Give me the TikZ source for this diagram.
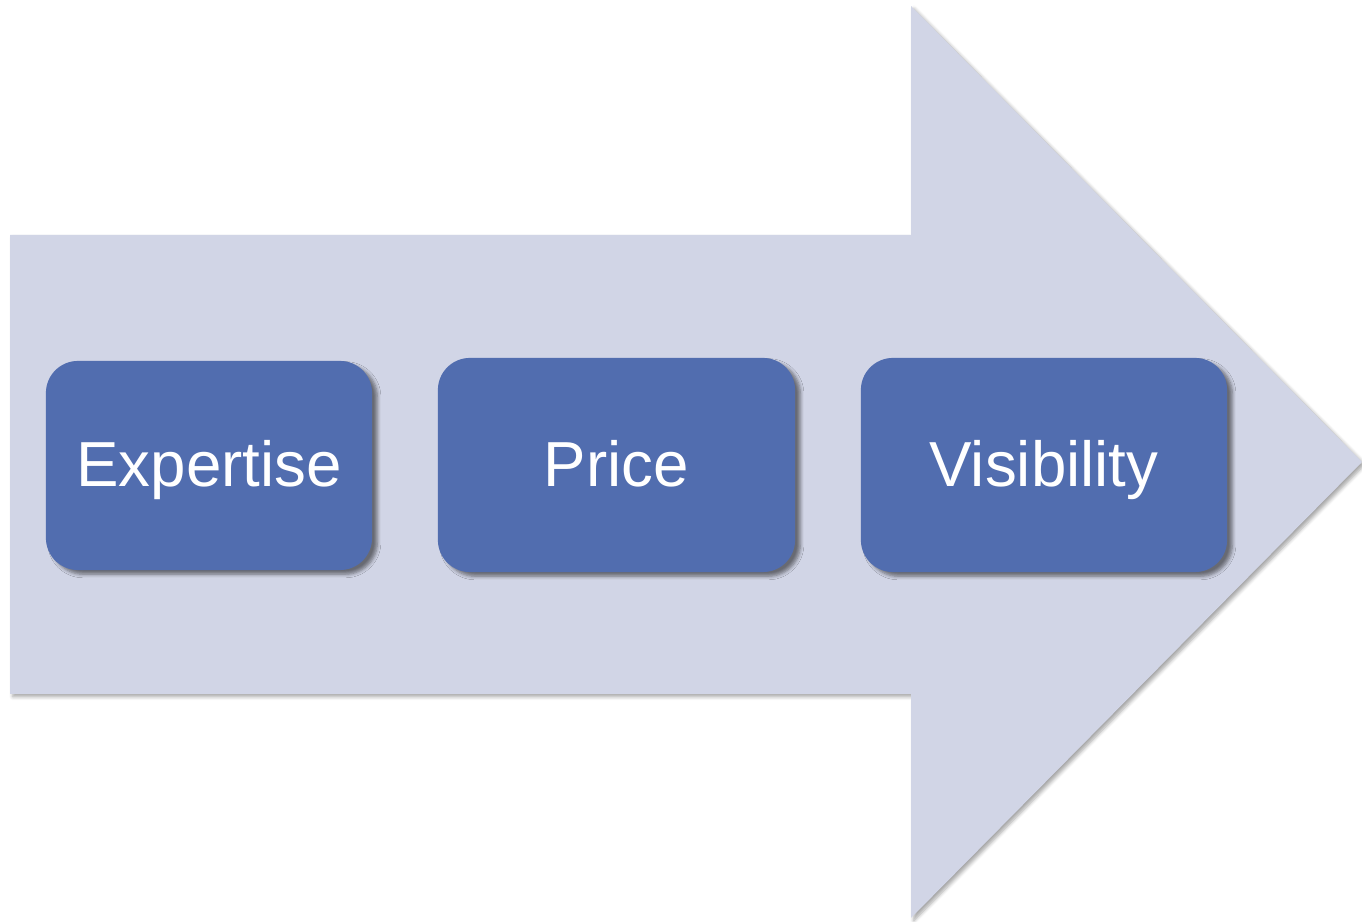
\documentclass[tikz,border=0pt]{standalone}
\usepackage{fontspec}
\setmainfont{Liberation Sans}
\usetikzlibrary{shadows.blur}
\definecolor{arrowfill}{HTML}{D1D5E6}
\definecolor{boxfill}{HTML}{516DAF}

\begin{document}
\begin{tikzpicture}[x=0.01cm,y=-0.01cm]
				\tikzstyle{stepbox}=[fill=boxfill,rounded corners=0.32cm,text=white,
				font=\fontsize{18.1}{22}\selectfont,inner sep=0pt,text height=0.55cm,text depth=0.13cm,
				blur shadow={shadow xshift=1.5pt,shadow yshift=-1.2pt,shadow blur radius=1pt,shadow blur steps=5,shadow opacity=50}]
				\tikzstyle{bigarrow}=[fill=arrowfill,
				blur shadow={shadow xshift=0.8pt,shadow yshift=-0.8pt,shadow blur radius=1pt,shadow blur steps=5,shadow opacity=35}]
				\useasboundingbox (0,0) rectangle (1362,922);
				% the arrow
				\coordinate (tail top) at (10,235);
				\coordinate (neck top) at (911,235);
				\coordinate (head top) at (911,6);
				\coordinate (tip) at (1362,462);
				\coordinate (head bottom) at (911,918);
				\coordinate (neck bottom) at (911,694);
				\coordinate (tail bottom) at (10,694);
				\path[bigarrow] (tail top) -- (neck top) -- (head top) -- (tip)
				-- (head bottom) -- (neck bottom) -- (tail bottom) -- cycle;
				% the three steps
				\node[stepbox,minimum width=3.26cm,minimum height=2.09cm] (expertise) at (209,465.5) {Expertise};
				\node[stepbox,minimum width=3.57cm,minimum height=2.14cm] (price) at (616.5,465) {Price};
				\node[stepbox,minimum width=3.66cm,minimum height=2.14cm] (visibility) at (1044,465) {Visibility};
\end{tikzpicture}
\end{document}
